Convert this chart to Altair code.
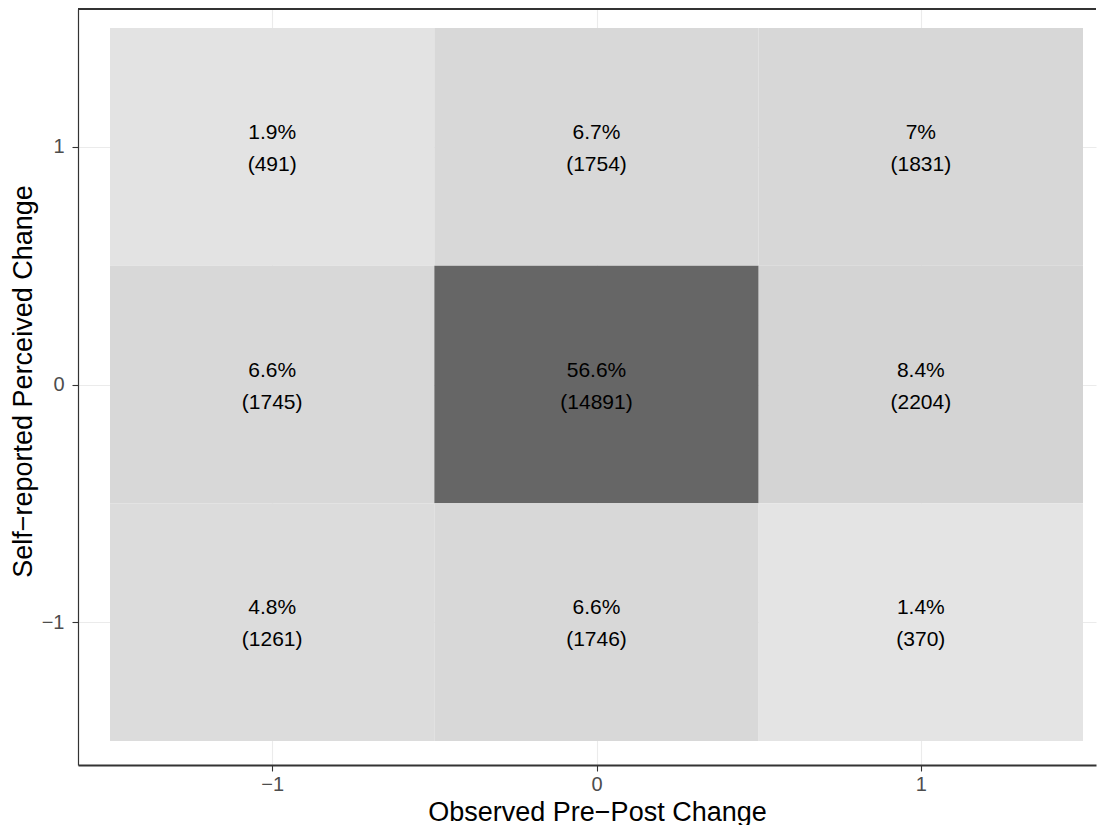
import altair as alt
import pandas as pd

# ---- data ----
obs_change = [-1, 0, 1, -1, 0, 1, -1, 0, 1]
self_change = [1, 1, 1, 0, 0, 0, -1, -1, -1]
counts = [491, 1754, 1831, 1745, 14891, 2204, 1261, 1746, 370]
percents = [1.9, 6.7, 7.0, 6.6, 56.6, 8.4, 4.8, 6.6, 1.4]
tick_values = [-1, 0, 1]

df = pd.DataFrame({
    "obs": obs_change,
    "self": self_change,
    "count": counts,
    "pct": percents,
})
df["x0"] = df["obs"] - 0.5
df["x1"] = df["obs"] + 0.5
df["y0"] = df["self"] - 0.5
df["y1"] = df["self"] + 0.5
df["label"] = [[f"{p:g}%", f"({n})"] for p, n in zip(df["pct"], df["count"])]

W, H = 1018, 756
FONT = "Liberation Sans"
BORDER = "#333333"

xscale = alt.Scale(domain=[-1.5987, 1.5401], nice=False, zero=False)
yscale = alt.Scale(domain=[-1.601, 1.58], nice=False, zero=False)
label_expr = "datum.value < 0 ? '\u2212' + abs(datum.value) : '' + datum.value"

x_axis = alt.Axis(values=tick_values, labelExpr=label_expr,
                  title="Observed Pre\u2212Post Change",
                  labelPadding=3, domainWidth=2,
                  titleX=519, titleY=55, titleBaseline="alphabetic",
                  titleAlign="center", titleAnchor="start")
y_axis = alt.Axis(values=tick_values, labelExpr=label_expr,
                  title="Self\u2212reported Perceived Change",
                  labelPadding=8, domainWidth=1.2,
                  titleX=-55, titleY=372, titleBaseline="middle",
                  titleAlign="center", titleAnchor="start", titleAngle=270)

tiles = alt.Chart(df).mark_rect().encode(
    x=alt.X("x0:Q", scale=xscale, axis=x_axis),
    x2="x1:Q",
    y=alt.Y("y0:Q", scale=yscale, axis=y_axis),
    y2="y1:Q",
    color=alt.Color("count:Q",
                    scale=alt.Scale(domain=[370, 14891],
                                    range=["#e4e4e4", "#666666"],
                                    interpolate="rgb"),
                    legend=None),
)

labels = alt.Chart(df).mark_text(
    font=FONT, fontSize=21, lineHeight=32, baseline="middle",
    align="center", color="#000000", dy=-14
).encode(
    x=alt.X("obs:Q", scale=xscale),
    y=alt.Y("self:Q", scale=yscale),
    text="label",
)

top_border = alt.Chart(pd.DataFrame({"a": [0]})).mark_rule(
    color=BORDER, strokeWidth=2
).encode(x=alt.value(0), x2=alt.value(W), y=alt.value(0))

chart = alt.layer(tiles, labels, top_border).properties(
    width=W, height=H,
    autosize="none",
    padding={"left": 70, "top": 1, "right": 2, "bottom": 60},
).configure_view(stroke=None).configure_axis(
    domainColor=BORDER,
    tickColor=BORDER, tickWidth=1.1, tickSize=6,
    labelFont=FONT, labelFontSize=20, labelColor="#4d4d4d",
    titleFont=FONT, titleFontSize=27, titleColor="#000000",
    titleFontWeight="normal",
    gridColor="#ebebeb", gridWidth=1.1,
)

chart.save("out.html", embed_options={"renderer": "svg", "actions": False})
